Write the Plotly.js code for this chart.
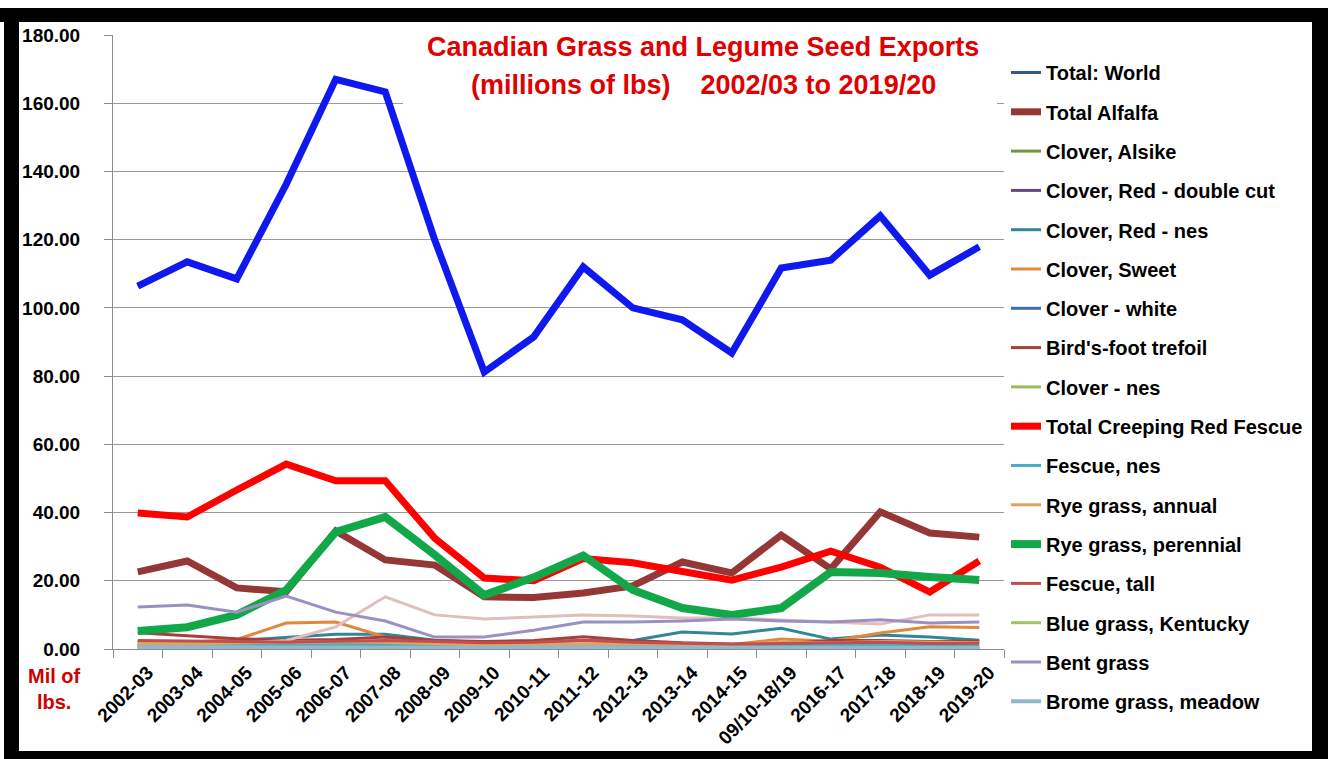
<!DOCTYPE html>
<html>
<head>
<meta charset="utf-8">
<script src="https://cdn.plot.ly/plotly-3.0.1.min.js"></script>
<style>
  html, body { margin: 0; padding: 0; background: #ffffff; }
  #chart { width: 1328px; height: 759px; }
</style>
</head>
<body>
<div id="chart"></div>
<script>
// ---------- DATA ----------
const seasons = ["2002-03","2003-04","2004-05","2005-06","2006-07","2007-08","2008-09","2009-10","2010-11",
                 "2011-12","2012-13","2013-14","2014-15","09/10-18/19","2016-17","2017-18","2018-19","2019-20"];

const totalWorld      = [106.4,113.5,108.5,136.3,167.0,163.3,119.9,81.2,91.5,112.0,100.0,96.5,86.8,111.7,114.0,127.0,109.6,117.9];
const totalAlfalfa    = [22.6,25.8,17.9,16.8,34.6,26.1,24.6,15.3,15.1,16.4,18.5,25.5,22.3,33.4,23.5,40.2,34.0,32.8];
const cloverAlsike    = [0.4,0.3,0.3,0.2,0.2,0.3,0.2,0.2,0.2,0.2,0.1,0.1,0.1,0.1,0.1,0.1,0.1,0.1];
const cloverRedDouble = [1.0,0.9,0.8,0.9,1.2,1.0,0.8,0.7,0.8,0.9,0.8,0.7,0.6,0.7,0.6,0.8,0.7,0.6];
const cloverRedNes    = [2.0,1.8,2.5,3.5,4.3,4.3,2.6,2.0,2.3,2.4,2.5,5.0,4.4,6.1,2.9,4.1,3.5,2.6];
const cloverSweet     = [2.2,2.0,2.8,7.6,7.9,3.5,2.0,1.4,1.3,1.5,1.6,1.4,1.3,2.9,2.3,4.7,6.5,6.3];
const cloverWhite     = [0.8,0.7,0.6,0.6,0.7,0.6,0.5,0.5,0.5,0.5,0.4,0.4,0.4,0.4,0.4,0.4,0.3,0.3];
const birdsFoot       = [4.8,4.0,3.0,2.6,2.8,3.5,2.5,2.2,2.5,3.6,2.5,1.8,1.5,1.5,2.5,2.5,2.2,2.3];
const cloverNes       = [0.3,0.3,0.2,0.2,0.3,0.3,0.2,0.2,0.2,0.2,0.2,0.2,0.1,0.1,0.1,0.1,0.1,0.1];
const creepingRed     = [39.9,38.7,46.6,54.2,49.3,49.3,32.5,20.8,20.0,26.5,25.3,22.6,20.2,24.0,28.7,24.0,16.7,25.8];
const fescueNes       = [1.2,1.0,1.1,1.2,1.3,1.4,1.2,1.0,1.1,1.2,1.1,1.0,1.0,1.0,1.1,1.2,1.1,1.0];
const ryeAnnual       = [1.6,1.5,1.8,2.0,2.2,2.0,1.5,1.2,1.3,1.4,1.5,1.3,1.2,2.0,1.8,2.2,2.0,1.8];
const ryePerennial    = [5.3,6.4,10.0,17.3,34.3,38.7,27.6,15.8,21.0,27.4,17.3,12.0,10.0,12.0,22.6,22.3,21.1,20.2];
const fescueTall      = [2.5,2.3,2.0,2.0,2.3,2.5,2.2,1.8,2.0,2.6,2.0,1.6,1.4,1.6,1.8,2.0,1.6,1.7];
const blueKentucky    = [0.6,0.6,0.5,0.5,0.6,0.6,0.5,0.4,0.4,0.5,0.4,0.4,0.4,0.4,0.4,0.5,0.4,0.4];
const bentGrass       = [12.3,12.9,10.8,15.5,10.8,8.2,3.5,3.5,5.5,7.9,7.9,8.2,8.8,8.2,7.9,8.6,7.6,7.9];
const bromeMeadow     = [0.5,0.5,0.4,0.4,0.5,0.5,0.4,0.4,0.4,0.4,0.3,0.3,0.3,0.3,0.3,0.3,0.3,0.3];
const otherGrass      = [1.5,1.5,1.6,2.5,6.5,15.3,10.0,8.8,9.4,10.0,9.7,9.1,9.1,8.5,7.9,7.3,10.0,10.0];

const yTicks = [0,20,40,60,80,100,120,140,160,180];

// ---------- TRACES ----------
function line(name, y, color, width, extra) {
  return Object.assign({
    type: "scatter", mode: "lines", name: name, x: seasons, y: y,
    line: { color: color, width: width },
    legendgroup: name, hoverinfo: "x+y+name"
  }, extra || {});
}

const traces = [
  line("Total: World", totalWorld, "#2E5A8C", 3),
  line("Total Alfalfa", totalAlfalfa, "#953735", 7),
  line("Clover, Alsike", cloverAlsike, "#77933C", 3),
  line("Clover, Red - double cut", cloverRedDouble, "#604A7B", 3),
  line("Clover, Red - nes", cloverRedNes, "#31859C", 3),
  line("Clover, Sweet", cloverSweet, "#E0893E", 3),
  line("Clover - white", cloverWhite, "#3F6FA8", 3),
  line("Bird's-foot trefoil", birdsFoot, "#A5403E", 3),
  line("Clover - nes", cloverNes, "#9BBB59", 3),
  line("Other grasses", otherGrass, "#E2BDBD", 3, { showlegend: false, legendgroup: "other" }),
  line("Total Creeping Red Fescue", creepingRed, "#FF0000", 7),
  line("Fescue, nes", fescueNes, "#4BACC6", 3),
  line("Rye grass, annual", ryeAnnual, "#E8A060", 3),
  line("Rye grass, perennial", ryePerennial, "#12A84A", 8),
  line("Fescue, tall", fescueTall, "#C0504D", 3),
  line("Blue grass, Kentucky", blueKentucky, "#A6C06A", 3),
  line("Bent grass", bentGrass, "#9A90C2", 3),
  line("Brome grass, meadow", bromeMeadow, "#8DB8D0", 4),
  line("Total: World", totalWorld, "#1018F0", 7, { showlegend: false, legendgroup: "Total: World" })
];

// ---------- LAYOUT ----------
const L = 113, R = 1004, T = 35, B = 649;
const X = px => (px - L) / (R - L);
const Y = py => (B - py) / (B - T);
const FONT = "Liberation Sans, Arial, sans-serif";

const layout = {
  width: 1328, height: 759,
  margin: { l: L, r: 1328 - R, t: T, b: 759 - B, pad: 0 },
  paper_bgcolor: "#ffffff", plot_bgcolor: "#ffffff",
  font: { family: FONT, color: "#000000" },
  title: { text: "" },
  showlegend: true,
  legend: {
    x: X(1006), xanchor: "left", y: Y(53), yanchor: "top",
    font: { family: FONT, size: 20, color: "#000000", weight: "bold" },
    bgcolor: "rgba(255,255,255,0)", borderwidth: 0,
    traceorder: "grouped", tracegroupgap: 10.3, maxheight: 759,
    itemclick: false, itemdoubleclick: false
  },
  xaxis: {
    type: "category", range: [-0.5, seasons.length - 0.5],
    tickangle: -45, tickson: "boundaries", ticks: "outside", ticklen: 8, tickcolor: "#8c8c8c",
    ticklabelstandoff: 4, ticklabelshift: 10,
    showline: true, linecolor: "#8c8c8c", linewidth: 1,
    showgrid: false, zeroline: false,
    tickfont: { family: FONT, size: 19, color: "#000000", weight: "bold" },
    fixedrange: true
  },
  yaxis: {
    range: [0, 180], tickvals: yTicks, ticktext: yTicks.map(v => v.toFixed(2)),
    ticks: "outside", ticklen: 8, tickcolor: "#8c8c8c", ticklabelstandoff: 20,
    showline: true, linecolor: "#8c8c8c", linewidth: 1,
    showgrid: true, gridcolor: "#9a9a9a", gridwidth: 1, zeroline: false,
    tickfont: { family: FONT, size: 19, color: "#000000", weight: "bold" },
    fixedrange: true
  },
  annotations: [
    { xref: "paper", yref: "paper", x: X(703), y: Y(47), xanchor: "center", yanchor: "middle",
      text: "Canadian Grass and Legume Seed Exports",
      showarrow: false, align: "center",
      font: { family: FONT, size: 27, color: "#E00000", weight: "bold" } },
    { xref: "paper", yref: "paper", x: X(703), y: Y(85), xanchor: "center", yanchor: "middle",
      text: "(millions of lbs)\u00a0\u00a0\u00a0 2002/03 to 2019/20",
      showarrow: false, align: "center",
      font: { family: FONT, size: 27, color: "#E00000", weight: "bold" } },
    { xref: "paper", yref: "paper", x: X(54), y: Y(689), xanchor: "center", yanchor: "middle",
      text: "Mil of<br>lbs.", showarrow: false, align: "center",
      font: { family: FONT, size: 20, color: "#D00000", weight: "bold" } }
  ],
  shapes: [
    { type: "rect", xref: "paper", yref: "paper", x0: X(403), x1: X(997), y0: Y(24), y1: Y(110), fillcolor: "#fff", line: { width: 0 }, layer: "above" },
    { type: "rect", xref: "paper", yref: "paper", x0: X(0), x1: X(1328), y0: Y(8), y1: Y(22), fillcolor: "#000", line: { width: 0 }, layer: "above" },
    { type: "rect", xref: "paper", yref: "paper", x0: X(4), x1: X(19), y0: Y(8), y1: Y(759), fillcolor: "#000", line: { width: 0 }, layer: "above" },
    { type: "rect", xref: "paper", yref: "paper", x0: X(1312), x1: X(1328), y0: Y(8), y1: Y(759), fillcolor: "#000", line: { width: 0 }, layer: "above" },
    { type: "rect", xref: "paper", yref: "paper", x0: X(4), x1: X(1328), y0: Y(751), y1: Y(759), fillcolor: "#000", line: { width: 0 }, layer: "above" }
  ]
};

Plotly.newPlot("chart", traces, layout, { displayModeBar: false });
</script>
</body>
</html>
